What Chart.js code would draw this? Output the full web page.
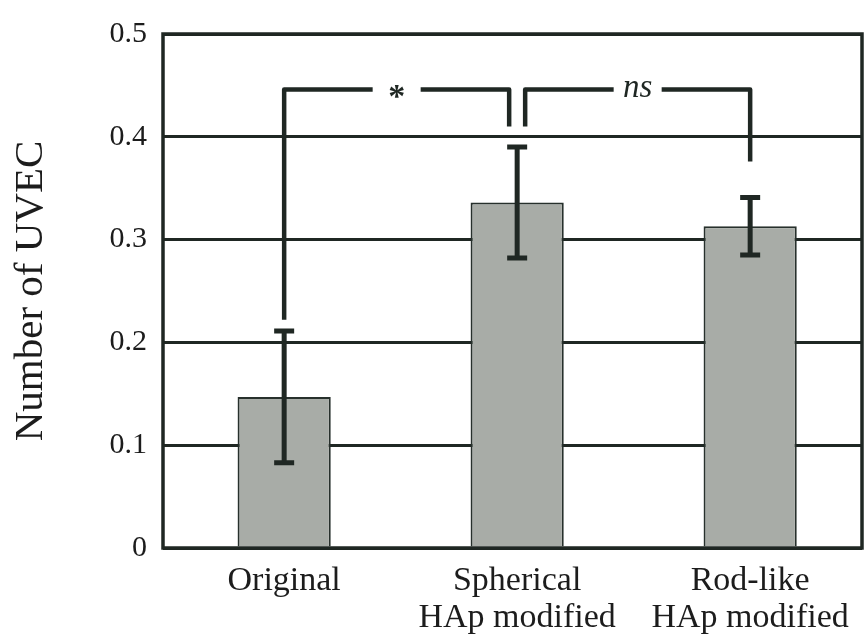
<!DOCTYPE html>
<html>
<head>
<meta charset="utf-8">
<script src="https://cdn.jsdelivr.net/npm/chart.js@4.4.0/dist/chart.umd.min.js"></script>
<style>
  html, body { margin: 0; padding: 0; background: #fff; }
</style>
</head>
<body>
<canvas id="uvecChart" width="864" height="639"></canvas>
<script>
// values
const categories = [['Original'], ['Spherical', 'HAp modified'], ['Rod-like', 'HAp modified']];
const meanValues = [0.147, 0.336, 0.313];
const errorValues = [0.064, 0.054, 0.028];
const yTicks = [0, 0.1, 0.2, 0.3, 0.4, 0.5];
const brackets = [
  { from: 0, to: 1, level: 0.446, fromEnd: 0.222, toEnd: 0.41, label: '*' },
  { from: 1, to: 2, level: 0.446, fromEnd: 0.41, toEnd: 0.376, label: 'ns' }
];

const ink = '#1f2723';
const serif = '"Liberation Serif", "Times New Roman", serif';

const annotatePlugin = {
  id: 'annotate',
  afterDatasetsDraw(chart) {
    const { ctx, chartArea } = chart;
    const xs = chart.scales.x, ys = chart.scales.y;
    ctx.save();
    ctx.strokeStyle = ink;
    ctx.lineCap = 'butt';

    // error bars
    ctx.lineWidth = 5;
    meanValues.forEach((m, i) => {
      const x = xs.getPixelForValue(i);
      const top = ys.getPixelForValue(m + errorValues[i]);
      const bot = ys.getPixelForValue(m - errorValues[i]);
      ctx.beginPath();
      ctx.moveTo(x, top); ctx.lineTo(x, bot);
      ctx.moveTo(x - 10, top); ctx.lineTo(x + 10, top);
      ctx.moveTo(x - 10, bot); ctx.lineTo(x + 10, bot);
      ctx.stroke();
    });

    // significance brackets
    ctx.lineWidth = 4.5;
    ctx.lineJoin = 'round';
    brackets.forEach((b, k) => {
      // legs that meet on a shared bar are pulled apart a little
      const x1 = xs.getPixelForValue(b.from) + (k > 0 ? 8 : 0);
      const x2 = xs.getPixelForValue(b.to) - (k < brackets.length - 1 ? 8 : 0);
      const y = ys.getPixelForValue(b.level);
      const mid = (x1 + x2) / 2;
      const gap = 24;
      ctx.beginPath();
      ctx.moveTo(x1, ys.getPixelForValue(b.fromEnd));
      ctx.lineTo(x1, y);
      ctx.lineTo(mid - gap, y);
      ctx.moveTo(mid + gap, y);
      ctx.lineTo(x2, y);
      ctx.lineTo(x2, ys.getPixelForValue(b.toEnd));
      ctx.stroke();

      ctx.fillStyle = ink;
      ctx.textAlign = 'center';
      ctx.textBaseline = 'alphabetic';
      if (b.label === '*') {
        ctx.font = 'bold 34px ' + serif;
        ctx.fillText(b.label, mid, y + 17);
      } else {
        ctx.font = 'italic 33px ' + serif;
        ctx.fillText(b.label, mid, y + 7);
      }
    });

    // plot frame
    ctx.lineWidth = 3.5;
    ctx.lineJoin = 'miter';
    ctx.strokeRect(chartArea.left, chartArea.top, chartArea.right - chartArea.left, chartArea.bottom - chartArea.top);
    ctx.restore();
  }
};

new Chart(document.getElementById('uvecChart'), {
  type: 'bar',
  data: {
    datasets: [{
      data: meanValues.map((v, i) => ({ x: i, y: v })),
      backgroundColor: '#a8aca7',
      borderColor: '#27302c',
      borderWidth: 2,
      barPercentage: 0.4,
      categoryPercentage: 1.0
    }]
  },
  options: {
    responsive: false,
    animation: false,
    layout: { padding: { top: 28, right: 2, left: 0, bottom: 0 } },
    plugins: { legend: { display: false }, tooltip: { enabled: false } },
    scales: {
      x: {
        type: 'linear',
        offset: false,
        min: -0.52,
        max: 2.48,
        afterBuildTicks: (scale) => { scale.ticks = categories.map((c, i) => ({ value: i })); },
        afterFit: (scale) => { scale.height = 91; },
        grid: { display: false, offset: false },
        border: { display: false },
        ticks: {
          autoSkip: false,
          maxRotation: 0,
          padding: 6,
          color: '#1c1c1c',
          font: { family: serif, size: 34, lineHeight: 1.1 },
          callback: (value) => categories[value]
        }
      },
      y: {
        min: 0,
        max: 0.5,
        afterBuildTicks: (scale) => { scale.ticks = yTicks.map(v => ({ value: v })); },
        afterFit: (scale) => { scale.width = 163; },
        grid: { color: ink, lineWidth: 3, drawTicks: false },
        border: { display: false },
        ticks: {
          padding: 16,
          color: '#1c1c1c',
          font: { family: serif, size: 30 },
          callback: (value) => String(Math.round(value * 10) / 10)
        },
        title: {
          display: true,
          text: 'Number of UVEC',
          color: '#1c1c1c',
          font: { family: serif, size: 41 },
          padding: { top: 7, bottom: 0 }
        }
      }
    }
  },
  plugins: [annotatePlugin]
});
</script>
</body>
</html>
